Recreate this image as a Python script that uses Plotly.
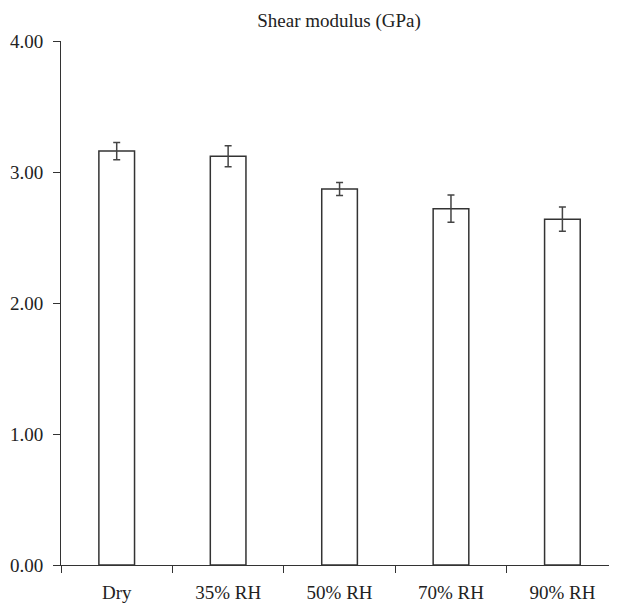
import plotly.graph_objects as go

categories = ["Dry", "35% RH", "50% RH", "70% RH", "90% RH"]
shear_modulus = [3.16, 3.12, 2.87, 2.72, 2.64]
error_values = [0.066, 0.08, 0.05, 0.104, 0.093]
y_ticks = [0, 1, 2, 3, 4]
y_tick_labels = ["0.00", "1.00", "2.00", "3.00", "4.00"]

FONT = "Liberation Serif"
FS = 19

# page body has an 8px margin; size the figure so it lands where the reference does
fig = go.Figure()
fig.add_trace(go.Bar(
    x=categories,
    y=shear_modulus,
    width=0.32,
    marker=dict(color="white", line=dict(color="#333333", width=1.5)),
    error_y=dict(type="data", array=error_values, visible=True,
                 color="#444444", thickness=1.5, width=3.5),
))

fig.update_layout(
    width=609, height=602,
    margin=dict(l=53, r=0, t=33, b=45),
    paper_bgcolor="white", plot_bgcolor="white",
    showlegend=False,
    font=dict(family=FONT, size=FS, color="#222222"),
    title=dict(text="Shear modulus (GPa)", x=331 / 609, xanchor="center",
               y=1 - 12 / 602, yanchor="middle",
               font=dict(family=FONT, size=FS, color="#222222")),
    xaxis=dict(range=[-0.5, 4.49], showline=True, linecolor="#333333", linewidth=1,
               ticks="outside", ticklen=7, tickcolor="#333333", tickson="boundaries",
               showgrid=False, zeroline=False, ticklabelstandoff=10,
               tickfont=dict(family=FONT, size=FS, color="#222222")),
    yaxis=dict(range=[0, 4], tickvals=y_ticks, ticktext=y_tick_labels,
               showline=True, linecolor="#333333", linewidth=1,
               ticks="outside", ticklen=7, tickcolor="#333333",
               showgrid=False, zeroline=False, ticklabelstandoff=6,
               tickfont=dict(family=FONT, size=FS, color="#222222")),
)

fig.write_html("out.html")
